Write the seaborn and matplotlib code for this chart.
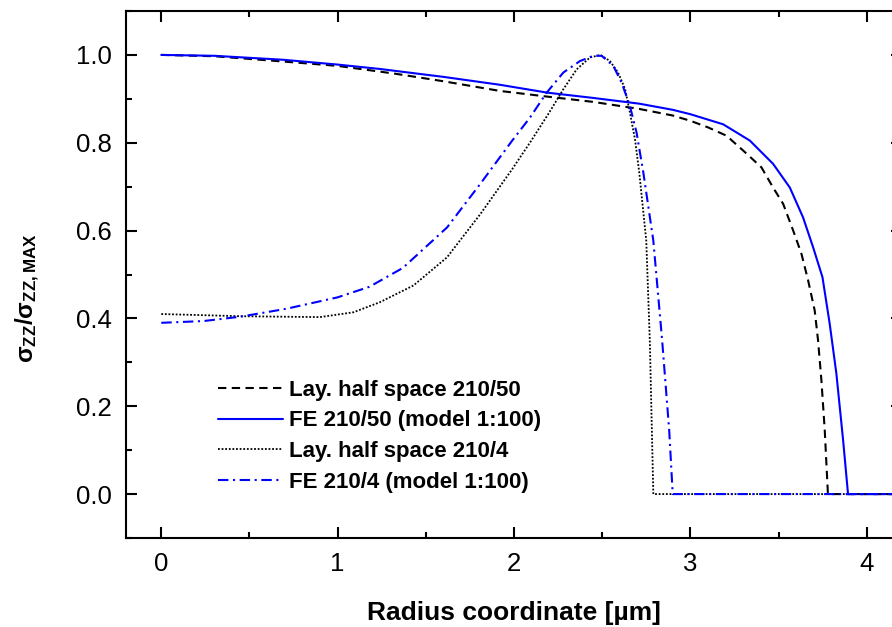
import matplotlib
matplotlib.use("Agg")
import matplotlib.pyplot as plt
import pandas as pd
import seaborn as sns
from matplotlib.ticker import MultipleLocator

# Lay. half space 210/50 (black dashed)
ls50_x = [0, 0.3, 0.69, 1.0, 1.33, 1.6, 1.92, 2.19, 2.45, 2.71, 2.9, 3.0, 3.1, 3.205,
          3.3, 3.403, 3.469, 3.526, 3.583, 3.63, 3.668, 3.705, 3.724, 3.743, 3.762, 3.78, 4.2]
ls50_y = [1.0, 0.997, 0.985, 0.975, 0.957, 0.94, 0.918, 0.905, 0.893, 0.877, 0.862, 0.85,
          0.835, 0.816, 0.782, 0.744, 0.698, 0.661, 0.60, 0.547, 0.486, 0.418, 0.35, 0.259,
          0.145, 0.0, 0.0]

# FE 210/50 (model 1:100) (blue solid)
fe50_x = [0, 0.3, 0.69, 1.0, 1.24, 1.6, 1.92, 2.19, 2.45, 2.71, 2.9, 3.0, 3.186, 3.337,
          3.469, 3.564, 3.639, 3.696, 3.749, 3.79, 3.828, 3.866, 3.894, 4.2]
fe50_y = [1.0, 0.998, 0.989, 0.978, 0.968, 0.95, 0.932, 0.914, 0.902, 0.889, 0.875, 0.865,
          0.842, 0.805, 0.752, 0.698, 0.630, 0.562, 0.494, 0.388, 0.274, 0.123, 0.0, 0.0]

# Lay. half space 210/4 (black dotted)
ls4_x = [0, 0.45, 0.9, 1.09, 1.24, 1.43, 1.62, 1.81, 1.99, 2.09, 2.2, 2.28, 2.355, 2.43,
         2.49, 2.544, 2.59, 2.63, 2.657, 2.686, 2.71, 2.75, 2.77, 2.79, 4.2]
ls4_y = [0.41, 0.405, 0.403, 0.414, 0.437, 0.475, 0.539, 0.638, 0.74, 0.80, 0.869, 0.922,
         0.967, 0.994, 1.0, 0.986, 0.96, 0.922, 0.869, 0.808, 0.733, 0.577, 0.35, 0.0, 0.0]

# FE 210/4 (model 1:100) (blue dash-dot)
fe4_x = [0, 0.24, 0.45, 0.71, 1.0, 1.18, 1.37, 1.62, 1.81, 1.99, 2.09, 2.185, 2.28, 2.374,
         2.45, 2.497, 2.563, 2.61, 2.657, 2.695, 2.733, 2.79, 2.84, 2.88, 2.90, 4.2]
fe4_y = [0.39, 0.394, 0.404, 0.422, 0.448, 0.472, 0.515, 0.607, 0.707, 0.805, 0.857, 0.914,
         0.96, 0.986, 0.998, 0.998, 0.975, 0.937, 0.884, 0.823, 0.733, 0.577, 0.35, 0.145,
         0.0, 0.0]

labels = ["Lay. half space 210/50", "FE 210/50 (model 1:100)",
          "Lay. half space 210/4", "FE 210/4 (model 1:100)"]

sns.set_style("ticks")
plt.rcParams['font.family'] = ['Liberation Sans', 'DejaVu Sans']
plt.rcParams['text.color'] = 'black'
plt.rcParams['axes.labelcolor'] = 'black'
plt.rcParams['mathtext.fontset'] = 'custom'
plt.rcParams['mathtext.rm'] = 'Liberation Sans'
plt.rcParams['mathtext.bf'] = 'Liberation Sans:bold'
plt.rcParams['mathtext.it'] = 'Liberation Sans:italic'

fig = plt.figure(figsize=(8.92, 6.27), dpi=100)
ax = fig.add_axes([126 / 892, 1 - 538 / 627, (902 - 126) / 892, (538 - 11) / 627])

series = [
    (ls50_x, ls50_y, "black", (0, (4, 2.6)), 1.5),
    (fe50_x, fe50_y, "#0000ff", "-", 1.5),
    (ls4_x, ls4_y, "black", (0, (1, 1)), 1.3),
    (fe4_x, fe4_y, "#0000ff", (0, (5, 2.2, 1, 2.2)), 1.5),
]
for (xs, ys, col, ls, lw), lab in zip(series, labels):
    d = pd.DataFrame({"x": xs, "y": ys})
    sns.lineplot(data=d, x="x", y="y", ax=ax, color=col, linestyle=ls, linewidth=lw,
                 label=lab, sort=False, estimator=None)

ax.set_xlim(-0.2, 4.2)
ax.set_ylim(-0.1, 1.1)
ax.xaxis.set_major_locator(MultipleLocator(1))
ax.xaxis.set_minor_locator(MultipleLocator(0.5))
ax.yaxis.set_major_locator(MultipleLocator(0.2))
ax.yaxis.set_minor_locator(MultipleLocator(0.1))
ax.set_yticks([0.0, 0.2, 0.4, 0.6, 0.8, 1.0])
ax.set_yticklabels(["0.0", "0.2", "0.4", "0.6", "0.8", "1.0"])

ax.tick_params(which="both", direction="in", top=True, right=True, width=1.5, labelsize=18.5,
               color="black", labelcolor="black")
ax.tick_params(which="major", length=8, pad=10)
ax.tick_params(which="minor", length=4.5)
for sp in ax.spines.values():
    sp.set_linewidth(1.5)
    sp.set_color("black")

ax.set_xlabel("Radius coordinate [µm]", fontsize=19, fontweight="bold", labelpad=18)
ax.set_ylabel(r"σ$_{\mathbf{ZZ}}$/σ$_{\mathbf{ZZ,MAX}}$", fontsize=17.5, fontweight="bold")
ax.yaxis.set_label_coords(-0.108, 0.455)

ax.legend(loc="upper left", bbox_to_anchor=(0.119, 0.30), frameon=False,
          prop={"weight": "bold", "size": 16}, handlelength=2.9, handletextpad=0.3,
          labelspacing=0.43, borderpad=0, borderaxespad=0)

fig.savefig("out.png", dpi=100)
